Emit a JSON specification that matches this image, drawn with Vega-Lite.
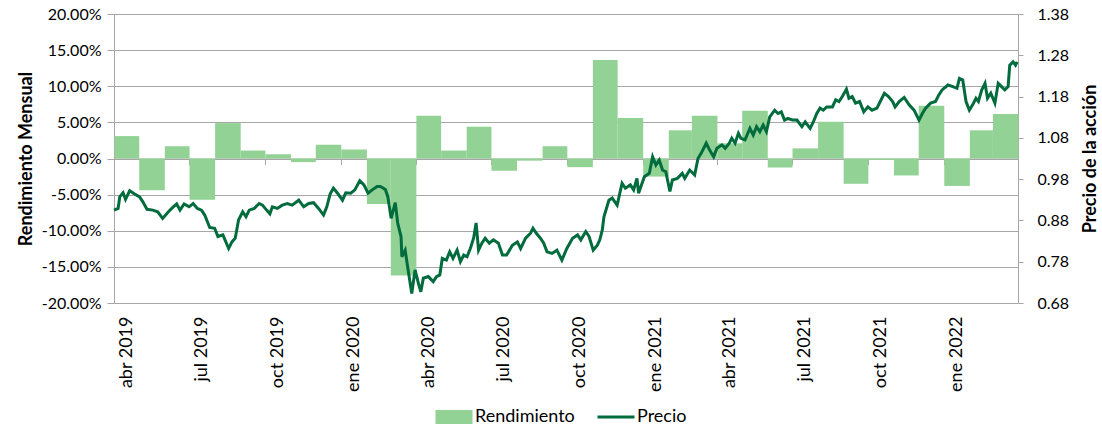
{
  "$schema": "https://vega.github.io/schema/vega-lite/v6.json",
  "width": 904,
  "height": 289,
  "autosize": {"type": "none"},
  "padding": {"left": 114, "top": 14, "right": 84, "bottom": 129},
  "background": "white",
  "config": {
    "font": "Lato",
    "view": {"stroke": null},
    "axis": {"labelFont": "Lato", "titleFont": "Lato", "labelColor": "#000000", "titleColor": "#000000"},
    "legend": {"layout": {"bottom": {"anchor": "middle", "direction": "horizontal"}}}
  },
  "datasets": {
    "rendimiento": [
      {"mes": "2019-04-01T00:00", "rendimiento": 0.031},
      {"mes": "2019-05-01T00:00", "rendimiento": -0.044},
      {"mes": "2019-06-01T00:00", "rendimiento": 0.017},
      {"mes": "2019-07-01T00:00", "rendimiento": -0.057},
      {"mes": "2019-08-01T00:00", "rendimiento": 0.049},
      {"mes": "2019-09-01T00:00", "rendimiento": 0.011},
      {"mes": "2019-10-01T00:00", "rendimiento": 0.006},
      {"mes": "2019-11-01T00:00", "rendimiento": -0.005},
      {"mes": "2019-12-01T00:00", "rendimiento": 0.019},
      {"mes": "2020-01-01T00:00", "rendimiento": 0.0125},
      {"mes": "2020-02-01T00:00", "rendimiento": -0.063},
      {"mes": "2020-03-01T00:00", "rendimiento": -0.162},
      {"mes": "2020-04-01T00:00", "rendimiento": 0.059},
      {"mes": "2020-05-01T00:00", "rendimiento": 0.011},
      {"mes": "2020-06-01T00:00", "rendimiento": 0.044},
      {"mes": "2020-07-01T00:00", "rendimiento": -0.017},
      {"mes": "2020-08-01T00:00", "rendimiento": -0.003},
      {"mes": "2020-09-01T00:00", "rendimiento": 0.017},
      {"mes": "2020-10-01T00:00", "rendimiento": -0.012},
      {"mes": "2020-11-01T00:00", "rendimiento": 0.1365},
      {"mes": "2020-12-01T00:00", "rendimiento": 0.056},
      {"mes": "2021-01-01T00:00", "rendimiento": -0.025},
      {"mes": "2021-02-01T00:00", "rendimiento": 0.039},
      {"mes": "2021-03-01T00:00", "rendimiento": 0.059},
      {"mes": "2021-04-01T00:00", "rendimiento": 0.021},
      {"mes": "2021-05-01T00:00", "rendimiento": 0.066},
      {"mes": "2021-06-01T00:00", "rendimiento": -0.0125},
      {"mes": "2021-07-01T00:00", "rendimiento": 0.014},
      {"mes": "2021-08-01T00:00", "rendimiento": 0.051},
      {"mes": "2021-09-01T00:00", "rendimiento": -0.035},
      {"mes": "2021-10-01T00:00", "rendimiento": -0.002},
      {"mes": "2021-11-01T00:00", "rendimiento": -0.0235},
      {"mes": "2021-12-01T00:00", "rendimiento": 0.073},
      {"mes": "2022-01-01T00:00", "rendimiento": -0.038},
      {"mes": "2022-02-01T00:00", "rendimiento": 0.039},
      {"mes": "2022-03-01T00:00", "rendimiento": 0.0615}
    ],
    "precio": [
      {"fecha": "2019-04-01", "precio": 0.905},
      {"fecha": "2019-04-06", "precio": 0.909},
      {"fecha": "2019-04-08", "precio": 0.937},
      {"fecha": "2019-04-12", "precio": 0.947},
      {"fecha": "2019-04-15", "precio": 0.931},
      {"fecha": "2019-04-20", "precio": 0.952},
      {"fecha": "2019-04-26", "precio": 0.944},
      {"fecha": "2019-05-02", "precio": 0.937},
      {"fecha": "2019-05-06", "precio": 0.925},
      {"fecha": "2019-05-11", "precio": 0.907},
      {"fecha": "2019-05-18", "precio": 0.905},
      {"fecha": "2019-05-24", "precio": 0.901},
      {"fecha": "2019-05-30", "precio": 0.885},
      {"fecha": "2019-06-06", "precio": 0.901},
      {"fecha": "2019-06-10", "precio": 0.909},
      {"fecha": "2019-06-16", "precio": 0.920},
      {"fecha": "2019-06-20", "precio": 0.905},
      {"fecha": "2019-06-25", "precio": 0.920},
      {"fecha": "2019-07-01", "precio": 0.913},
      {"fecha": "2019-07-06", "precio": 0.921},
      {"fecha": "2019-07-11", "precio": 0.909},
      {"fecha": "2019-07-16", "precio": 0.905},
      {"fecha": "2019-07-20", "precio": 0.893},
      {"fecha": "2019-07-26", "precio": 0.863},
      {"fecha": "2019-08-01", "precio": 0.861},
      {"fecha": "2019-08-05", "precio": 0.841},
      {"fecha": "2019-08-11", "precio": 0.845},
      {"fecha": "2019-08-18", "precio": 0.812},
      {"fecha": "2019-08-22", "precio": 0.828},
      {"fecha": "2019-08-26", "precio": 0.837},
      {"fecha": "2019-08-30", "precio": 0.881},
      {"fecha": "2019-09-04", "precio": 0.901},
      {"fecha": "2019-09-08", "precio": 0.889},
      {"fecha": "2019-09-12", "precio": 0.905},
      {"fecha": "2019-09-18", "precio": 0.909},
      {"fecha": "2019-09-24", "precio": 0.921},
      {"fecha": "2019-09-28", "precio": 0.917},
      {"fecha": "2019-10-03", "precio": 0.905},
      {"fecha": "2019-10-07", "precio": 0.896},
      {"fecha": "2019-10-10", "precio": 0.913},
      {"fecha": "2019-10-16", "precio": 0.909},
      {"fecha": "2019-10-22", "precio": 0.917},
      {"fecha": "2019-10-28", "precio": 0.921},
      {"fecha": "2019-11-03", "precio": 0.917},
      {"fecha": "2019-11-11", "precio": 0.929},
      {"fecha": "2019-11-17", "precio": 0.913},
      {"fecha": "2019-11-23", "precio": 0.921},
      {"fecha": "2019-11-29", "precio": 0.923},
      {"fecha": "2019-12-05", "precio": 0.909},
      {"fecha": "2019-12-11", "precio": 0.893},
      {"fecha": "2019-12-15", "precio": 0.913},
      {"fecha": "2019-12-19", "precio": 0.944},
      {"fecha": "2019-12-23", "precio": 0.958},
      {"fecha": "2019-12-28", "precio": 0.946},
      {"fecha": "2020-01-03", "precio": 0.929},
      {"fecha": "2020-01-07", "precio": 0.947},
      {"fecha": "2020-01-13", "precio": 0.946},
      {"fecha": "2020-01-18", "precio": 0.954},
      {"fecha": "2020-01-24", "precio": 0.976},
      {"fecha": "2020-01-29", "precio": 0.966},
      {"fecha": "2020-02-03", "precio": 0.946},
      {"fecha": "2020-02-08", "precio": 0.954},
      {"fecha": "2020-02-14", "precio": 0.962},
      {"fecha": "2020-02-18", "precio": 0.962},
      {"fecha": "2020-02-24", "precio": 0.955},
      {"fecha": "2020-02-27", "precio": 0.937},
      {"fecha": "2020-03-02", "precio": 0.885},
      {"fecha": "2020-03-07", "precio": 0.923},
      {"fecha": "2020-03-10", "precio": 0.873},
      {"fecha": "2020-03-14", "precio": 0.841},
      {"fecha": "2020-03-15", "precio": 0.792},
      {"fecha": "2020-03-19", "precio": 0.808},
      {"fecha": "2020-03-22", "precio": 0.768},
      {"fecha": "2020-03-27", "precio": 0.703},
      {"fecha": "2020-03-31", "precio": 0.760},
      {"fecha": "2020-04-04", "precio": 0.728},
      {"fecha": "2020-04-07", "precio": 0.707},
      {"fecha": "2020-04-10", "precio": 0.740},
      {"fecha": "2020-04-16", "precio": 0.744},
      {"fecha": "2020-04-22", "precio": 0.732},
      {"fecha": "2020-04-26", "precio": 0.744},
      {"fecha": "2020-04-30", "precio": 0.748},
      {"fecha": "2020-05-03", "precio": 0.788},
      {"fecha": "2020-05-08", "precio": 0.784},
      {"fecha": "2020-05-12", "precio": 0.804},
      {"fecha": "2020-05-16", "precio": 0.788},
      {"fecha": "2020-05-21", "precio": 0.808},
      {"fecha": "2020-05-25", "precio": 0.780},
      {"fecha": "2020-05-29", "precio": 0.796},
      {"fecha": "2020-06-02", "precio": 0.792},
      {"fecha": "2020-06-06", "precio": 0.812},
      {"fecha": "2020-06-10", "precio": 0.837},
      {"fecha": "2020-06-13", "precio": 0.874},
      {"fecha": "2020-06-16", "precio": 0.808},
      {"fecha": "2020-06-20", "precio": 0.825},
      {"fecha": "2020-06-24", "precio": 0.837},
      {"fecha": "2020-06-29", "precio": 0.825},
      {"fecha": "2020-07-04", "precio": 0.833},
      {"fecha": "2020-07-10", "precio": 0.825},
      {"fecha": "2020-07-15", "precio": 0.796},
      {"fecha": "2020-07-20", "precio": 0.796},
      {"fecha": "2020-07-27", "precio": 0.820},
      {"fecha": "2020-08-02", "precio": 0.828},
      {"fecha": "2020-08-06", "precio": 0.812},
      {"fecha": "2020-08-12", "precio": 0.837},
      {"fecha": "2020-08-18", "precio": 0.849},
      {"fecha": "2020-08-21", "precio": 0.861},
      {"fecha": "2020-08-25", "precio": 0.849},
      {"fecha": "2020-08-30", "precio": 0.837},
      {"fecha": "2020-09-03", "precio": 0.825},
      {"fecha": "2020-09-07", "precio": 0.804},
      {"fecha": "2020-09-13", "precio": 0.800},
      {"fecha": "2020-09-19", "precio": 0.808},
      {"fecha": "2020-09-25", "precio": 0.784},
      {"fecha": "2020-10-01", "precio": 0.812},
      {"fecha": "2020-10-08", "precio": 0.837},
      {"fecha": "2020-10-14", "precio": 0.845},
      {"fecha": "2020-10-18", "precio": 0.833},
      {"fecha": "2020-10-24", "precio": 0.853},
      {"fecha": "2020-10-28", "precio": 0.841},
      {"fecha": "2020-11-02", "precio": 0.808},
      {"fecha": "2020-11-07", "precio": 0.820},
      {"fecha": "2020-11-10", "precio": 0.833},
      {"fecha": "2020-11-13", "precio": 0.857},
      {"fecha": "2020-11-15", "precio": 0.889},
      {"fecha": "2020-11-21", "precio": 0.929},
      {"fecha": "2020-11-25", "precio": 0.934},
      {"fecha": "2020-12-01", "precio": 0.917},
      {"fecha": "2020-12-07", "precio": 0.970},
      {"fecha": "2020-12-11", "precio": 0.958},
      {"fecha": "2020-12-17", "precio": 0.966},
      {"fecha": "2020-12-21", "precio": 0.954},
      {"fecha": "2020-12-25", "precio": 0.982},
      {"fecha": "2020-12-27", "precio": 0.946},
      {"fecha": "2021-01-03", "precio": 0.986},
      {"fecha": "2021-01-09", "precio": 0.994},
      {"fecha": "2021-01-13", "precio": 1.034},
      {"fecha": "2021-01-17", "precio": 1.014},
      {"fecha": "2021-01-21", "precio": 1.026},
      {"fecha": "2021-01-25", "precio": 1.002},
      {"fecha": "2021-01-29", "precio": 0.998},
      {"fecha": "2021-02-03", "precio": 0.950},
      {"fecha": "2021-02-06", "precio": 0.978},
      {"fecha": "2021-02-12", "precio": 0.982},
      {"fecha": "2021-02-18", "precio": 0.994},
      {"fecha": "2021-02-21", "precio": 0.982},
      {"fecha": "2021-02-27", "precio": 1.002},
      {"fecha": "2021-03-05", "precio": 0.990},
      {"fecha": "2021-03-09", "precio": 1.030},
      {"fecha": "2021-03-13", "precio": 1.043},
      {"fecha": "2021-03-19", "precio": 1.067},
      {"fecha": "2021-03-23", "precio": 1.051},
      {"fecha": "2021-03-28", "precio": 1.034},
      {"fecha": "2021-04-01", "precio": 1.055},
      {"fecha": "2021-04-07", "precio": 1.063},
      {"fecha": "2021-04-11", "precio": 1.055},
      {"fecha": "2021-04-16", "precio": 1.067},
      {"fecha": "2021-04-19", "precio": 1.079},
      {"fecha": "2021-04-23", "precio": 1.067},
      {"fecha": "2021-04-27", "precio": 1.091},
      {"fecha": "2021-04-30", "precio": 1.079},
      {"fecha": "2021-05-05", "precio": 1.075},
      {"fecha": "2021-05-11", "precio": 1.103},
      {"fecha": "2021-05-15", "precio": 1.087},
      {"fecha": "2021-05-19", "precio": 1.107},
      {"fecha": "2021-05-23", "precio": 1.095},
      {"fecha": "2021-05-27", "precio": 1.111},
      {"fecha": "2021-05-31", "precio": 1.095},
      {"fecha": "2021-06-04", "precio": 1.131},
      {"fecha": "2021-06-10", "precio": 1.147},
      {"fecha": "2021-06-14", "precio": 1.139},
      {"fecha": "2021-06-18", "precio": 1.143},
      {"fecha": "2021-06-22", "precio": 1.123},
      {"fecha": "2021-06-26", "precio": 1.127},
      {"fecha": "2021-07-02", "precio": 1.123},
      {"fecha": "2021-07-07", "precio": 1.123},
      {"fecha": "2021-07-13", "precio": 1.107},
      {"fecha": "2021-07-17", "precio": 1.119},
      {"fecha": "2021-07-23", "precio": 1.103},
      {"fecha": "2021-07-27", "precio": 1.119},
      {"fecha": "2021-07-31", "precio": 1.139},
      {"fecha": "2021-08-04", "precio": 1.152},
      {"fecha": "2021-08-08", "precio": 1.147},
      {"fecha": "2021-08-12", "precio": 1.155},
      {"fecha": "2021-08-19", "precio": 1.155},
      {"fecha": "2021-08-23", "precio": 1.172},
      {"fecha": "2021-08-27", "precio": 1.168},
      {"fecha": "2021-08-31", "precio": 1.180},
      {"fecha": "2021-09-05", "precio": 1.198},
      {"fecha": "2021-09-08", "precio": 1.176},
      {"fecha": "2021-09-12", "precio": 1.180},
      {"fecha": "2021-09-16", "precio": 1.164},
      {"fecha": "2021-09-21", "precio": 1.168},
      {"fecha": "2021-09-26", "precio": 1.143},
      {"fecha": "2021-10-01", "precio": 1.155},
      {"fecha": "2021-10-06", "precio": 1.147},
      {"fecha": "2021-10-12", "precio": 1.152},
      {"fecha": "2021-10-16", "precio": 1.168},
      {"fecha": "2021-10-21", "precio": 1.188},
      {"fecha": "2021-10-26", "precio": 1.180},
      {"fecha": "2021-10-31", "precio": 1.168},
      {"fecha": "2021-11-03", "precio": 1.155},
      {"fecha": "2021-11-08", "precio": 1.168},
      {"fecha": "2021-11-14", "precio": 1.178},
      {"fecha": "2021-11-20", "precio": 1.160},
      {"fecha": "2021-11-26", "precio": 1.147},
      {"fecha": "2021-12-02", "precio": 1.123},
      {"fecha": "2021-12-06", "precio": 1.139},
      {"fecha": "2021-12-10", "precio": 1.152},
      {"fecha": "2021-12-16", "precio": 1.164},
      {"fecha": "2021-12-22", "precio": 1.168},
      {"fecha": "2021-12-26", "precio": 1.184},
      {"fecha": "2021-12-30", "precio": 1.196},
      {"fecha": "2022-01-06", "precio": 1.208},
      {"fecha": "2022-01-12", "precio": 1.204},
      {"fecha": "2022-01-17", "precio": 1.200},
      {"fecha": "2022-01-20", "precio": 1.224},
      {"fecha": "2022-01-24", "precio": 1.220},
      {"fecha": "2022-01-28", "precio": 1.168},
      {"fecha": "2022-02-01", "precio": 1.147},
      {"fecha": "2022-02-05", "precio": 1.160},
      {"fecha": "2022-02-09", "precio": 1.176},
      {"fecha": "2022-02-12", "precio": 1.168},
      {"fecha": "2022-02-16", "precio": 1.196},
      {"fecha": "2022-02-20", "precio": 1.212},
      {"fecha": "2022-02-23", "precio": 1.176},
      {"fecha": "2022-02-27", "precio": 1.188},
      {"fecha": "2022-03-04", "precio": 1.164},
      {"fecha": "2022-03-08", "precio": 1.212},
      {"fecha": "2022-03-12", "precio": 1.204},
      {"fecha": "2022-03-16", "precio": 1.196},
      {"fecha": "2022-03-20", "precio": 1.204},
      {"fecha": "2022-03-22", "precio": 1.256},
      {"fecha": "2022-03-26", "precio": 1.264},
      {"fecha": "2022-03-29", "precio": 1.256},
      {"fecha": "2022-03-31", "precio": 1.264}
    ]
  },
  "layer": [
    {
      "data": {"name": "rendimiento"},
      "mark": {"type": "bar", "color": "#93D295", "binSpacing": 0},
      "encoding": {
        "x": {
          "field": "mes",
          "timeUnit": "yearmonth",
          "type": "temporal",
          "scale": {"domain": [{"year": 2019, "month": 4, "date": 1}, {"year": 2022, "month": 4, "date": 1}]},
          "axis": {
            "orient": "bottom",
            "title": null,
            "values": [
              {"year": 2019, "month": 4, "date": 1}, {"year": 2019, "month": 7, "date": 1}, {"year": 2019, "month": 10, "date": 1},
              {"year": 2020, "month": 1, "date": 1}, {"year": 2020, "month": 4, "date": 1}, {"year": 2020, "month": 7, "date": 1}, {"year": 2020, "month": 10, "date": 1},
              {"year": 2021, "month": 1, "date": 1}, {"year": 2021, "month": 4, "date": 1}, {"year": 2021, "month": 7, "date": 1}, {"year": 2021, "month": 10, "date": 1},
              {"year": 2022, "month": 1, "date": 1}
            ],
            "labelExpr": "['ene','feb','mar','abr','may','jun','jul','ago','sep','oct','nov','dic'][month(datum.value)] + ' ' + year(datum.value)",
            "labelAngle": 270,
            "labelFontSize": 18,
            "labelOffset": 12.5,
            "labelPadding": 13,
            "ticks": false,
            "tickSize": 0,
            "domain": false,
            "grid": false,
            "labelOverlap": false,
            "labelBound": false,
            "labelFlush": false
          }
        },
        "y": {
          "field": "rendimiento",
          "type": "quantitative",
          "scale": {"domain": [-0.2, 0.2]},
          "axis": {
            "orient": "left",
            "title": "Rendimiento Mensual",
            "titleFontSize": 18,
            "titleFontWeight": "bold",
            "titlePadding": 6,
            "values": [-0.2, -0.15, -0.1, -0.05, 0, 0.05, 0.1, 0.15, 0.2],
            "format": ".2%",
            "labelExpr": "replace(datum.label, '−', '-')",
            "labelFontSize": 16,
            "labelPadding": 6,
            "tickSize": 7,
            "tickColor": "#A6A6A6",
            "domainColor": "#A6A6A6",
            "gridColor": "#A6A6A6",
            "grid": true
          }
        },
        "color": {
          "datum": "Rendimiento",
          "scale": {"domain": ["Rendimiento", "Precio"], "range": ["#93D295", "#006B3C"]},
          "legend": {
            "orient": "bottom",
            "direction": "horizontal",
            "title": null,
            "offset": 16,
            "labelFontSize": 18,
            "labelFont": "Lato",
            "labelColor": "#000000",
            "labelOffset": 12,
            "columnPadding": 16,
            "symbolSize": 1369,
            "encode": {
              "symbols": {
                "update": {
                  "shape": {"signal": "datum.value === 'Precio' ? 'stroke' : 'M-1,-0.38H1V0.38H-1Z'"},
                  "fill": {"signal": "datum.value === 'Precio' ? 'transparent' : '#93D295'"},
                  "stroke": {"signal": "datum.value === 'Precio' ? '#006B3C' : 'transparent'"},
                  "strokeWidth": {"signal": "datum.value === 'Precio' ? 3 : 0"},
                  "opacity": {"value": 1}
                }
              }
            }
          }
        }
      }
    },
    {
      "data": {"name": "precio"},
      "mark": {"type": "line", "strokeWidth": 3, "color": "#006B3C"},
      "encoding": {
        "x": {
          "field": "fecha",
          "type": "temporal",
          "axis": {
            "orient": "bottom",
            "title": null,
            "offset": -144.5,
            "values": [
              {"year": 2019, "month": 4, "date": 1}, {"year": 2019, "month": 7, "date": 1}, {"year": 2019, "month": 10, "date": 1},
              {"year": 2020, "month": 1, "date": 1}, {"year": 2020, "month": 4, "date": 1}, {"year": 2020, "month": 7, "date": 1}, {"year": 2020, "month": 10, "date": 1},
              {"year": 2021, "month": 1, "date": 1}, {"year": 2021, "month": 4, "date": 1}, {"year": 2021, "month": 7, "date": 1}, {"year": 2021, "month": 10, "date": 1},
              {"year": 2022, "month": 1, "date": 1}, {"year": 2022, "month": 4, "date": 1}
            ],
            "labels": false,
            "ticks": true,
            "tickSize": 6,
            "tickColor": "#A6A6A6",
            "domain": true,
            "domainColor": "#A6A6A6",
            "grid": false
          }
        },
        "y": {
          "field": "precio",
          "type": "quantitative",
          "scale": {"domain": [0.68, 1.38], "zero": false},
          "axis": {
            "orient": "right",
            "title": "Precio de la acción",
            "titleFontSize": 18,
            "titleFontWeight": "bold",
            "titleAngle": 270,
            "titleBaseline": "top",
            "titlePadding": 13,
            "values": [0.68, 0.78, 0.88, 0.98, 1.08, 1.18, 1.28, 1.38],
            "format": ".2f",
            "labelFontSize": 16,
            "labelPadding": 14,
            "tickSize": 5,
            "tickColor": "#A6A6A6",
            "domainColor": "#A6A6A6",
            "grid": false
          }
        },
        "color": {"datum": "Precio"}
      }
    }
  ],
  "resolve": {"scale": {"y": "independent"}, "axis": {"x": "independent"}}
}
